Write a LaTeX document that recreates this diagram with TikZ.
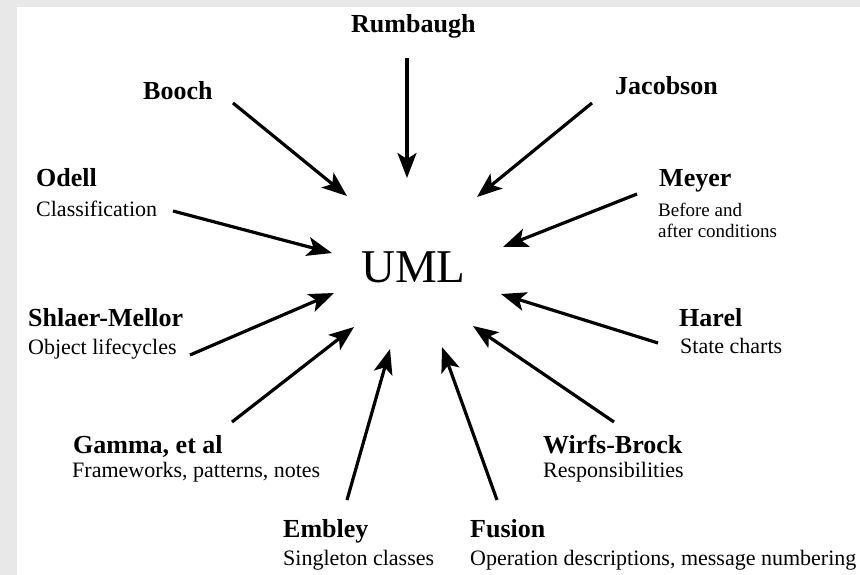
\documentclass[tikz,border=0pt]{standalone}
\usepackage{fontspec}
\setmainfont{Liberation Serif}
\usetikzlibrary{arrows.meta}
\begin{document}
\begin{tikzpicture}[x=1pt,y=-1pt,
  author/.style={anchor=base west, inner sep=0pt, font=\fontsize{26}{26}\selectfont\bfseries},
  note/.style={anchor=base west, inner sep=0pt, font=\fontsize{22}{22}\selectfont},
  smallnote/.style={anchor=base west, inner sep=0pt, font=\fontsize{19}{20}\selectfont},
  feed/.style={line width=3.2pt, -{Stealth[length=25pt,width=19pt,inset=6pt]}}]
% frame
\fill[gray!18] (0,0) rectangle (860,575);
\fill[white] (17,7) rectangle (860,575);
\useasboundingbox (0,0) rectangle (860,575);

% centre
\node[anchor=base, inner sep=0pt, font=\fontsize{47}{47}\selectfont] (uml) at (413.5,282) {UML};

% contributors
\node[author] (rumbaugh) at (351,33) {Rumbaugh};
\node[author] (booch) at (143,100) {Booch};
\node[author] (jacobson) at (615,95) {Jacobson};
\node[author] (odell) at (36,187) {Odell};
\node[note] (odellnote) at (36,217) {Classification};
\node[author] (meyer) at (659,187) {Meyer};
\node[smallnote] (meyernote) at (658,217) {Before and};
\node[smallnote] (meyernote2) at (658,237) {after conditions};
\node[author] (shlaer) at (28,326) {Shlaer-Mellor};
\node[note] (shlaernote) at (28,354) {Object lifecycles};
\node[author] (harel) at (679,326) {Harel};
\node[note] (harelnote) at (680,353) {State charts};
\node[author] (gamma) at (73,453) {Gamma, et al};
\node[note] (gammanote) at (72,477) {Frameworks, patterns, notes};
\node[author] (wirfs) at (543,453) {Wirfs-Brock};
\node[note] (wirfsnote) at (543,477) {Responsibilities};
\node[author] (embley) at (283,537) {Embley};
\node[note] (embleynote) at (283,565) {Singleton classes};
\node[author] (fusion) at (470,537) {Fusion};
\node[note] (fusionnote) at (470,565) {Operation descriptions, message numbering};

% arrow tails
\coordinate (t-rumbaugh) at (407,58);
\coordinate (t-booch) at (233,103);
\coordinate (t-jacobson) at (592,103);
\coordinate (t-odell) at (173,211);
\coordinate (t-meyer) at (637,194);
\coordinate (t-shlaer) at (190,355);
\coordinate (t-harel) at (658,343);
\coordinate (t-gamma) at (232,422);
\coordinate (t-wirfs) at (614,422);
\coordinate (t-embley) at (347,500);
\coordinate (t-fusion) at (497,500);

% arrow tips around the centre
\coordinate (h-rumbaugh) at (407,178);
\coordinate (h-booch) at (347,196);
\coordinate (h-jacobson) at (477,197);
\coordinate (h-odell) at (332,253);
\coordinate (h-meyer) at (503,247);
\coordinate (h-shlaer) at (334,293);
\coordinate (h-harel) at (501,294);
\coordinate (h-gamma) at (354,327);
\coordinate (h-wirfs) at (473,326);
\coordinate (h-embley) at (390,349);
\coordinate (h-fusion) at (442,347);

\foreach \n in {rumbaugh,booch,jacobson,odell,meyer,shlaer,harel,gamma,wirfs,embley,fusion}
  \draw[feed] (t-\n) -- (h-\n);
\end{tikzpicture}
\end{document}
